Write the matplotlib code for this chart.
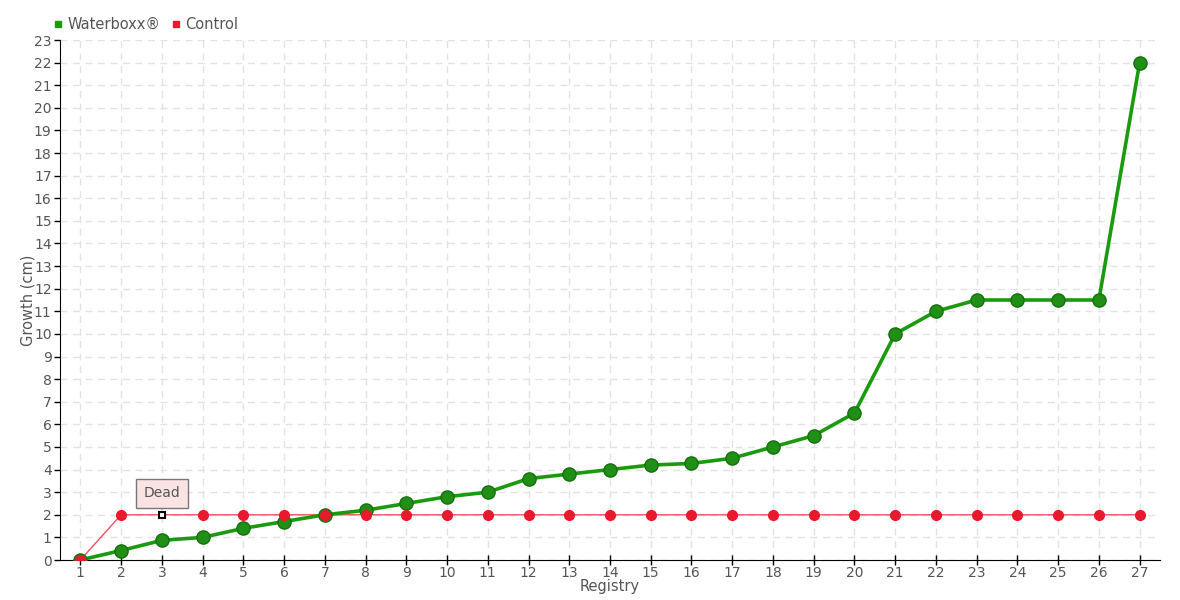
import matplotlib.pyplot as plt
from matplotlib.lines import Line2D

registry = list(range(1, 28))
waterboxx = [0, 0.42, 0.87, 1.0, 1.4, 1.7, 2.0, 2.2, 2.5, 2.8, 3.0, 3.6, 3.8, 4.0,
             4.2, 4.27, 4.5, 5.0, 5.5, 6.5, 10.0, 11.0, 11.5, 11.5, 11.5, 11.5, 22.0]
control = [0] + [2] * 26
dead_index = 2  # registry 3
y_ticks = list(range(0, 24))

text_color = '#555555'
green = '#1a9a0e'
red = '#e8192c'

plt.rcParams['font.family'] = ['DejaVu Sans']

fig = plt.figure(figsize=(11.8, 6), dpi=100)
ax = fig.add_axes([60 / 1180, 40 / 600, 1100 / 1180, 520 / 600])

# control series
ax.plot(registry, control, color=red, linewidth=1, alpha=0.75, zorder=3)
ctrl_x = [x for i, x in enumerate(registry) if i != dead_index]
ctrl_y = [y for i, y in enumerate(control) if i != dead_index]
ax.plot(ctrl_x, ctrl_y, linestyle='none', marker='o', markersize=7,
        markerfacecolor=red, markeredgecolor=red, zorder=6)
ax.plot(registry[dead_index], control[dead_index], linestyle='none', marker='s',
        markersize=5, markerfacecolor='white', markeredgecolor='black',
        markeredgewidth=1.5, zorder=6)

# waterboxx series
ax.plot(registry, waterboxx, color=green, linewidth=2.6, zorder=4,
        marker='o', markersize=9.5, markerfacecolor='#1f8f16', markeredgecolor='#17700f',
        markeredgewidth=1)

# "Dead" label
ax.annotate('Dead', xy=(registry[dead_index], control[dead_index]),
            xytext=(registry[dead_index], control[dead_index] + 0.95),
            ha='center', va='center', fontsize=10, color=text_color,
            bbox=dict(boxstyle='square,pad=0.55', facecolor='#fbe3e3',
                      edgecolor='#777777', linewidth=1),
            arrowprops=dict(arrowstyle='-', color='#777777', lw=0.8,
                            shrinkA=0, shrinkB=4),
            zorder=7)

ax.set_xlim(0.5, 27.5)
ax.set_ylim(0, 23)
ax.set_xticks(registry)
ax.set_yticks(y_ticks)
ax.tick_params(axis='both', colors='black', labelcolor=text_color, labelsize=10,
               length=4, width=1, pad=2)
ax.tick_params(axis='x', direction='inout', length=7, pad=1)

for side in ['top', 'right']:
    ax.spines[side].set_visible(False)
ax.spines['left'].set_color('black')
ax.spines['bottom'].set_color('black')

ax.grid(True, color='#e3e3e3', linestyle=(0, (5, 4)), linewidth=1)
ax.set_axisbelow(True)

ax.set_xlabel('Registry', fontsize=10.5, color=text_color, labelpad=-1)
ax.set_ylabel('Growth (cm)', fontsize=10.5, color=text_color, labelpad=-1)

handles = [Line2D([], [], linestyle='none', marker='s', markersize=5,
                  markerfacecolor=green, markeredgecolor=green),
           Line2D([], [], linestyle='none', marker='s', markersize=5,
                  markerfacecolor=red, markeredgecolor=red)]
fig.legend(handles, ['Waterboxx®', 'Control'], loc='upper left',
           bbox_to_anchor=(38 / 1180, 1 - 4 / 600), ncol=2, frameon=False,
           fontsize=10.5, labelcolor=text_color, handletextpad=0.1,
           columnspacing=0.6, handlelength=1)

fig.savefig('out.png', dpi=100)
